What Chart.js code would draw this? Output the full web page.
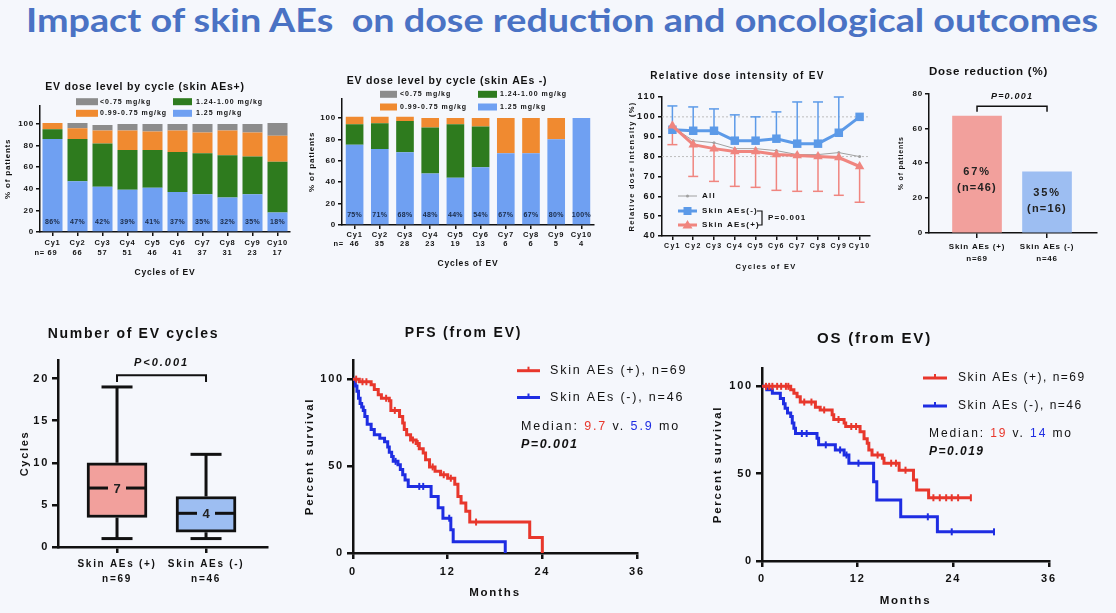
<!DOCTYPE html>
<html>
<head>
<meta charset="utf-8">
<script src="https://cdn.jsdelivr.net/npm/chart.js@4.4.1/dist/chart.umd.min.js"></script>
<style>
  body { margin: 0; background: #F5F7FC; width: 1116px; height: 613px; overflow: hidden; position: relative; }
  #title { position: absolute; left: 26px; top: -1px; white-space: nowrap; font: bold 33px Lato, sans-serif; color: #4A72C4; transform-origin: 0 0; }
  canvas { position: absolute; }
</style>
</head>
<body>
<div id="title">Impact of skin AEs&nbsp; on dose reduction and oncological outcomes</div>
<canvas id="c1" width="300" height="210" style="left:0;top:72px"></canvas>
<canvas id="c2" width="305" height="200" style="left:300px;top:70px"></canvas>
<canvas id="c3" width="275" height="210" style="left:605px;top:62px"></canvas>
<canvas id="c4" width="236" height="210" style="left:880px;top:60px"></canvas>
<canvas id="c5" width="275" height="275" style="left:0;top:318px"></canvas>
<canvas id="c6" width="410" height="290" style="left:290px;top:318px"></canvas>
<canvas id="c7" width="416" height="290" style="left:700px;top:320px"></canvas>
<script>
// --- dose level by cycle ---
const cycles = ['Cy1', 'Cy2', 'Cy3', 'Cy4', 'Cy5', 'Cy6', 'Cy7', 'Cy8', 'Cy9', 'Cy10'];
const doseLevels = ['1.25 mg/kg', '1.24-1.00 mg/kg', '0.99-0.75 mg/kg', '<0.75 mg/kg'];

const plusN = [69, 66, 57, 51, 46, 41, 37, 31, 23, 17];
const plus125 = [86, 47, 42, 39, 41, 37, 35, 32, 35, 18];
const plus124 = [9, 39, 40, 37, 35, 37, 38, 39, 35, 47];
const plus099 = [6, 10, 12, 18, 17, 20, 19, 23, 22, 24];
const plus075 = [0, 5, 5, 6, 7, 6, 8, 6, 8, 12];

const minusN = [46, 35, 28, 23, 19, 13, 6, 6, 5, 4];
const minus125 = [75, 71, 68, 48, 44, 54, 67, 67, 80, 100];
const minus124 = [19, 24, 29, 43, 50, 38, 0, 0, 0, 0];
const minus099 = [7, 6, 4, 9, 6, 8, 33, 33, 20, 0];
const minus075 = [0, 0, 0, 0, 0, 0, 0, 0, 0, 0];

// --- relative dose intensity ---
const rdiAll = [95, 88, 87, 84, 84, 83, 81, 81, 82, 80];
const rdiMinus = [93.5, 93, 93, 88, 88, 89, 86.5, 86.5, 92, 100];
const rdiMinusUpper = [105.5, 105, 104, 101, 100, 102.5, 107.5, 107.5, 110, 100];
const rdiPlus = [95.5, 86, 84, 82.5, 82.5, 81, 80.5, 80, 79.5, 75];
const rdiPlusLower = [86, 70, 67.5, 65, 64.5, 63, 62.5, 62.5, 60.5, 57];
const rdiRefLines = [100, 80];
const rdiP = 'P=0.001';

// --- groups ---
const groups = ['Skin AEs (+)', 'Skin AEs (-)'];
const groupN = [69, 46];
const doseRedPct = [67, 35];
const doseRedN = [46, 16];
const doseRedP = 'P=0.001';

// --- number of cycles (box plot) ---
const cycMin = [1, 1];
const cycQ1 = [3.5, 1.75];
const cycMed = [7, 4];
const cycQ3 = [10, 6];
const cycMax = [19, 11];
const cycP = 'P<0.001';

// --- PFS ---
const pfsPlusT = [0, 0.8, 2.3, 2.7, 3.2, 3.6, 4.6, 4.8, 5.9, 6.3, 6.5, 6.8, 7.3, 8.0, 8.4, 8.9, 9.2, 9.7, 10.4, 11.1, 12.0, 12.9, 13.3, 13.7, 14.3, 14.8, 22.4, 24.0];
const pfsPlusS = [100, 98.5, 96.7, 94, 91, 89, 87.5, 82, 78.5, 74.7, 71, 68, 65, 63, 60, 57.5, 53.6, 49.5, 47, 45, 43, 39.5, 32.5, 28.7, 24, 17.8, 8.9, 0];
const pfsPlusCensT = [0.4, 1.2, 1.7, 4.2, 5.3, 7.6, 8.2, 10.1, 11.5, 12.4, 15.6];
const pfsPlusCensS = [100, 98.5, 98.5, 89, 82, 65, 63, 49.5, 45, 43, 17.8];
const pfsMinusT = [0, 0.3, 0.5, 0.7, 0.9, 1.1, 1.3, 1.5, 1.8, 2.3, 2.7, 3.4, 4.0, 4.4, 4.6, 4.9, 5.1, 5.7, 6.0, 6.3, 6.6, 7.0, 9.9, 10.8, 11.4, 12.4, 12.7, 19.3];
const pfsMinusS = [100, 96, 93, 89, 86, 84, 82, 78.5, 74, 71, 68, 66, 64, 61, 58, 55.5, 52.7, 50.8, 48, 45, 42, 38.3, 32.5, 26, 20, 13.4, 6.5, 0];
const pfsMinusCensT = [5.4, 8.4, 8.9, 12.2];
const pfsMinusCensS = [52.7, 38.3, 38.3, 20];
const pfsMedian = ['9.7', '5.9'];
const pfsP = 'P=0.001';

// --- OS ---
const osPlusT = [0, 3.6, 4.0, 4.4, 4.8, 6.7, 7.3, 8.8, 9.0, 10.3, 10.5, 12.3, 12.8, 13.2, 13.4, 13.8, 15.1, 15.3, 17.2, 19.0, 19.4, 20.9, 26.2];
const osPlusS = [100, 98, 96, 94, 91, 88, 86.5, 83.7, 81, 79, 77, 74, 70, 67.4, 63.6, 60.7, 58.8, 56, 52, 46.4, 40.6, 36.2, 36.2];
const osPlusCensT = [0.5, 0.9, 1.3, 1.9, 2.4, 3.0, 3.3, 5.3, 6.2, 7.8, 9.6, 11.2, 11.8, 14.5, 16.2, 16.8, 18.0, 21.5, 22.3, 23.1, 23.8, 24.6, 26.2];
const osPlusCensS = [100, 100, 100, 100, 100, 100, 100, 91, 91, 86.5, 81, 77, 77, 60.7, 56, 56, 52, 36.2, 36.2, 36.2, 36.2, 36.2, 36.2];
const osMinusT = [0, 0.6, 1.3, 2.3, 2.7, 2.9, 3.2, 3.6, 3.8, 4.0, 4.2, 6.9, 7.1, 9.2, 10.3, 10.9, 14.0, 14.4, 17.4, 22.0, 29.1];
const osMinusS = [100, 98, 96, 93, 90, 87.5, 84.7, 82.8, 79, 76, 73, 70.3, 66.5, 63.6, 60.7, 56, 45.4, 34.9, 25.3, 16.7, 16.7];
const osMinusCensT = [5.0, 5.6, 8.0, 9.8, 10.6, 12.1, 20.8, 23.8, 29.1];
const osMinusCensS = [73, 73, 66.5, 63.6, 60.7, 56, 25.3, 16.7, 16.7];
const osMedian = ['19', '14'];
const osP = 'P=0.019';

const FONT = '"Liberation Sans", Arial, sans-serif';
const KM_RED = '#E8372C', KM_BLUE = '#1E2DE2';
const PINK = '#F2A09C', SOFTBLUE = '#9DBEF2';

Chart.defaults.font.family = FONT;
Chart.defaults.font.weight = 'bold';
Chart.defaults.color = '#111';
Chart.defaults.animation = false;
Chart.defaults.events = [];
Chart.defaults.plugins.legend.display = false;
Chart.defaults.plugins.tooltip.enabled = false;

// GraphPad style text is spaced out a bit
Chart.register({
  id: 'spacing',
  defaults: { px: 0 },
  beforeUpdate(chart, args, o) { chart.ctx.letterSpacing = o.px + 'px'; },
  beforeDraw(chart, args, o) { chart.ctx.letterSpacing = o.px + 'px'; }
});

function axisBase(w, tl) {
  return {
    border: { color: '#111', width: w },
    grid: { drawOnChartArea: false, color: '#111', lineWidth: w, tickLength: tl, offset: false }
  };
}

function text(ctx, s, x, y, font, ls, align, color) {
  ctx.save();
  ctx.font = font;
  ctx.letterSpacing = ls + 'px';
  ctx.textAlign = align || 'left';
  ctx.textBaseline = 'middle';
  ctx.fillStyle = color || '#111';
  ctx.fillText(s, x, y);
  ctx.restore();
}

function line(ctx, x1, y1, x2, y2) {
  ctx.beginPath();
  ctx.moveTo(x1, y1);
  ctx.lineTo(x2, y2);
  ctx.stroke();
}

// percent labels, "n=" and the 2x2 legend of the dose level charts
const doseExtras = {
  id: 'doseExtras',
  afterDatasetsDraw(chart, args, o) {
    const { ctx, scales: { y } } = chart;
    const ds = chart.data.datasets;
    chart.getDatasetMeta(0).data.forEach((bar, i) => {
      text(ctx, ds[0].data[i] + '%', bar.x, y.getPixelForValue(9.5), 'bold 7px ' + FONT, 0.3, 'center', '#1B2B48');
    });
    text(ctx, 'n=', o.nx, o.ny, 'bold 7.5px ' + FONT, 0.8, 'right');
    const cells = [[3, 0, 0], [1, 1, 0], [2, 0, 1], [0, 1, 1]];
    cells.forEach(([d, c, r]) => {
      const col = o.cols[c];
      ctx.fillStyle = ds[d].backgroundColor;
      ctx.fillRect(col.sx, o.rows[r] - 3.5, col.sw, 7);
      text(ctx, ds[d].label, col.tx, o.rows[r], 'bold 7px ' + FONT, 1, 'left');
    });
  }
};

function doseChart(id, title, v125, v124, v099, v075, nArr, cfg) {
  return new Chart(document.getElementById(id), {
    type: 'bar',
    data: {
      labels: cycles.map((c, i) => [c, String(nArr[i])]),
      datasets: [
        { label: doseLevels[0], data: v125, backgroundColor: '#6FA0F2' },
        { label: doseLevels[1], data: v124, backgroundColor: '#2E7B1E' },
        { label: doseLevels[2], data: v099, backgroundColor: '#F08A30' },
        { label: doseLevels[3], data: v075, backgroundColor: '#8C8C8C' }
      ]
    },
    options: {
      responsive: false,
      layout: { padding: { right: cfg.right, left: 0, top: 0, bottom: 0 } },
      datasets: { bar: { barPercentage: cfg.bar, categoryPercentage: 1 } },
      scales: {
        x: {
          ...axisBase(1.5, 4), stacked: true,
          ticks: { font: { size: 7.5, lineHeight: cfg.tlh }, padding: cfg.tpad, maxRotation: 0, autoSkip: false },
          title: { display: true, text: 'Cycles of EV', font: { size: 8.5 }, padding: { top: 0, bottom: cfg.xtp } },
          afterFit: s => { s.height = cfg.xh; }
        },
        y: {
          ...axisBase(1.5, 4), stacked: true, min: 0, max: cfg.ymax,
          ticks: { stepSize: 20, font: { size: 8 }, padding: 2 },
          afterBuildTicks: s => { s.ticks = s.ticks.filter(t => t.value <= 100); },
          title: { display: true, text: '% of patients', font: { size: 8 }, padding: { top: cfg.ytp, bottom: 0 } },
          afterFit: s => { s.width = cfg.yw; }
        }
      },
      plugins: {
        title: { display: true, text: title, font: { size: 10.5 }, padding: { top: cfg.tt, bottom: cfg.tb } },
        spacing: { px: 0.8 },
        doseExtras: cfg.legend
      }
    },
    plugins: [doseExtras]
  });
}

doseChart('c1', 'EV dose level by cycle (skin AEs+)', plus125, plus124, plus099, plus075, plusN, {
  right: 10, bar: 0.8, tlh: 1.33, tpad: 2, xtp: 4.6, xh: 50, ymax: 117, ytp: 3, yw: 40, tt: 9, tb: 12,
  legend: { nx: 45, ny: 181, rows: [29.7, 41.3], cols: [{ sx: 76, sw: 22, tx: 100 }, { sx: 173, sw: 19, tx: 196 }] }
});

doseChart('c2', 'EV dose level by cycle (skin AEs -)', minus125, minus124, minus099, minus075, minusN, {
  right: 11, bar: 0.7, tlh: 1.2, tpad: 1.5, xtp: 1.5, xh: 45, ymax: 118, ytp: 7, yw: 42, tt: 5, tb: 11,
  legend: { nx: 44, ny: 174, rows: [24.3, 37], cols: [{ sx: 80, sw: 17, tx: 100 }, { sx: 178, sw: 19, tx: 200 }] }
});

// error bars, reference lines and the inset legend of the RDI chart
const rdiExtras = {
  id: 'rdiExtras',
  beforeDatasetsDraw(chart) {
    const { ctx, scales: { x, y }, chartArea } = chart;
    ctx.save();
    ctx.strokeStyle = '#BDBDBD';
    ctx.lineWidth = 1;
    ctx.setLineDash([2, 2]);
    rdiRefLines.forEach(v => line(ctx, chartArea.left, y.getPixelForValue(v), chartArea.right, y.getPixelForValue(v)));
    ctx.setLineDash([]);
    ctx.lineWidth = 1.5;
    cycles.forEach((c, i) => {
      const px = x.getPixelForValue(i);
      ctx.strokeStyle = '#5C9AE8';
      if (rdiMinusUpper[i] > rdiMinus[i]) {
        const top = y.getPixelForValue(rdiMinusUpper[i]);
        line(ctx, px, y.getPixelForValue(rdiMinus[i]), px, top);
        line(ctx, px - 5, top, px + 5, top);
      }
      ctx.strokeStyle = '#F0857F';
      const bot = y.getPixelForValue(rdiPlusLower[i]);
      line(ctx, px, y.getPixelForValue(rdiPlus[i]), px, bot);
      line(ctx, px - 5, bot, px + 5, bot);
    });
    ctx.restore();
  },
  afterDraw(chart, args, o) {
    const ctx = chart.ctx;
    const ds = chart.data.datasets;
    const rows = [[2, o.rows[0]], [1, o.rows[1]], [0, o.rows[2]]];
    ctx.save();
    rows.forEach(([d, yy]) => {
      const s = ds[d];
      ctx.strokeStyle = s.borderColor;
      ctx.fillStyle = s.borderColor;
      ctx.lineWidth = s.borderWidth;
      line(ctx, o.lx1, yy, o.lx2, yy);
      const mx = (o.lx1 + o.lx2) / 2;
      if (s.pointStyle === 'rect') ctx.fillRect(mx - 4, yy - 4, 8, 8);
      else if (s.pointStyle === 'triangle') {
        ctx.beginPath(); ctx.moveTo(mx, yy - 5); ctx.lineTo(mx + 5, yy + 3.5); ctx.lineTo(mx - 5, yy + 3.5); ctx.closePath(); ctx.fill();
      } else { ctx.beginPath(); ctx.arc(mx, yy, 1.5, 0, Math.PI * 2); ctx.fill(); }
      text(ctx, s.label, o.tx, yy, 'bold 8px ' + FONT, 1.2, 'left');
    });
    ctx.strokeStyle = '#111';
    ctx.lineWidth = 1.2;
    ctx.beginPath();
    ctx.moveTo(o.bx - 5, o.rows[1]); ctx.lineTo(o.bx, o.rows[1]); ctx.lineTo(o.bx, o.rows[2]); ctx.lineTo(o.bx - 5, o.rows[2]);
    ctx.stroke();
    text(ctx, rdiP, o.bx + 6, (o.rows[1] + o.rows[2]) / 2, 'bold 8px ' + FONT, 1.2, 'left');
    ctx.restore();
  }
};

new Chart(document.getElementById('c3'), {
  type: 'line',
  data: {
    labels: cycles,
    datasets: [
      { label: 'Skin AEs(+)', data: rdiPlus, borderColor: '#F0857F', backgroundColor: '#F0857F', borderWidth: 3, pointStyle: 'triangle', pointRadius: 5.5, pointBorderWidth: 0 },
      { label: 'Skin AEs(-)', data: rdiMinus, borderColor: '#5C9AE8', backgroundColor: '#5C9AE8', borderWidth: 3, pointStyle: 'rect', pointRadius: 6, pointBorderWidth: 0 },
      { label: 'All', data: rdiAll, borderColor: '#A0A0A0', backgroundColor: '#A0A0A0', borderWidth: 1, pointStyle: 'circle', pointRadius: 1.5, pointBorderWidth: 0 }
    ]
  },
  options: {
    responsive: false,
    layout: { padding: { right: 10, left: 0, top: 0, bottom: 0 } },
    scales: {
      x: {
        ...axisBase(1.5, 4), offset: true,
        ticks: { font: { size: 7 }, padding: 2, autoSkip: false, maxRotation: 0 },
        title: { display: true, text: 'Cycles of EV', font: { size: 7.5 }, padding: { top: 0, bottom: 1 } },
        afterFit: s => { s.height = 36; }
      },
      y: {
        ...axisBase(1.5, 4), min: 40, max: 110,
        ticks: { stepSize: 10, font: { size: 9 }, padding: 2 },
        title: { display: true, text: 'Relative dose intensity (%)', font: { size: 7.5 }, padding: { top: 22, bottom: 0 } },
        afterFit: s => { s.width = 57; }
      }
    },
    plugins: {
      title: { display: true, text: 'Relative dose intensity of EV', font: { size: 10 }, padding: { top: 8, bottom: 15 } },
      spacing: { px: 1.3 },
      rdiExtras: { rows: [134, 149, 163], lx1: 73, lx2: 92, tx: 97, bx: 157 }
    }
  },
  plugins: [rdiExtras]
});

// labels inside the dose reduction bars and the significance bracket
const redExtras = {
  id: 'redExtras',
  afterDatasetsDraw(chart, args, o) {
    const { ctx, scales: { x, y } } = chart;
    doseRedPct.forEach((v, i) => {
      const px = x.getPixelForValue(i + 1);
      const y1 = y.getPixelForValue(v - o.drop[i]);
      text(ctx, v + '%', px, y1, 'bold 11px ' + FONT, 1.8, 'center', '#222');
      text(ctx, '(n=' + doseRedN[i] + ')', px, y1 + 16, 'bold 11px ' + FONT, 1.2, 'center', '#222');
    });
    const xa = x.getPixelForValue(1), xb = x.getPixelForValue(2);
    const yb = y.getPixelForValue(72.6), yt = y.getPixelForValue(69.5);
    ctx.save();
    ctx.strokeStyle = '#111';
    ctx.lineWidth = 1.5;
    ctx.beginPath();
    ctx.moveTo(xa, yt); ctx.lineTo(xa, yb); ctx.lineTo(xb, yb); ctx.lineTo(xb, yt);
    ctx.stroke();
    ctx.restore();
    text(ctx, doseRedP, (xa + xb) / 2, y.getPixelForValue(78.3), 'italic bold 9px ' + FONT, 1.2, 'center');
  }
};

new Chart(document.getElementById('c4'), {
  type: 'bar',
  data: {
    datasets: [{
      data: doseRedPct.map((v, i) => ({ x: i + 1, y: v })),
      backgroundColor: [PINK, SOFTBLUE],
      barThickness: 49
    }]
  },
  options: {
    responsive: false,
    layout: { padding: { right: 19, left: 0, top: 0, bottom: 0 } },
    scales: {
      x: {
        ...axisBase(1.5, 5), type: 'linear', offset: false, min: 0.314, max: 2.714,
        afterBuildTicks: s => { s.ticks = [{ value: 1 }, { value: 2 }]; },
        ticks: { font: { size: 8, lineHeight: 1.5 }, padding: 3, callback: v => [groups[v - 1], 'n=' + groupN[v - 1]] },
        afterFit: s => { s.height = 37; }
      },
      y: {
        ...axisBase(1.5, 4), min: 0, max: 80,
        ticks: { stepSize: 20, font: { size: 8 }, padding: 2 },
        title: { display: true, text: '% of patients', font: { size: 7 }, padding: { top: 17, bottom: 0 } },
        afterFit: s => { s.width = 49; }
      }
    },
    plugins: {
      title: { display: true, text: 'Dose reduction (%)', font: { size: 11.5 }, padding: { top: 5, bottom: 14.6 } },
      spacing: { px: 0.8 },
      redExtras: { drop: [32, 12] }
    }
  },
  plugins: [redExtras]
});

// whiskers, medians and bracket of the box plot
const boxExtras = {
  id: 'boxExtras',
  beforeDatasetsDraw(chart) {
    const { ctx, scales: { x, y } } = chart;
    ctx.save();
    ctx.strokeStyle = '#111';
    ctx.lineWidth = 3;
    cycMed.forEach((m, i) => {
      const px = x.getPixelForValue(i + 1);
      const top = y.getPixelForValue(cycMax[i]), bot = y.getPixelForValue(cycMin[i]);
      line(ctx, px, y.getPixelForValue(cycQ3[i]), px, top);
      line(ctx, px - 15.5, top, px + 15.5, top);
      line(ctx, px, y.getPixelForValue(cycQ1[i]), px, bot);
      line(ctx, px - 15.5, bot, px + 15.5, bot);
    });
    ctx.restore();
  },
  afterDatasetsDraw(chart) {
    const { ctx, scales: { x, y } } = chart;
    ctx.save();
    ctx.strokeStyle = '#111';
    ctx.lineWidth = 3;
    cycMed.forEach((m, i) => {
      const px = x.getPixelForValue(i + 1), py = y.getPixelForValue(m);
      line(ctx, px - 29, py, px - 9, py);
      line(ctx, px + 9, py, px + 29, py);
      text(ctx, String(m), px, py + 1, 'bold 13px ' + FONT, 0, 'center', '#222');
    });
    const xa = x.getPixelForValue(1), xb = x.getPixelForValue(2);
    const yb = y.getPixelForValue(20.4), yt = y.getPixelForValue(19.6);
    ctx.lineWidth = 2;
    ctx.beginPath();
    ctx.moveTo(xa, yt); ctx.lineTo(xa, yb); ctx.lineTo(xb, yb); ctx.lineTo(xb, yt);
    ctx.stroke();
    ctx.restore();
    text(ctx, cycP, (xa + xb) / 2, y.getPixelForValue(21.8), 'italic bold 11px ' + FONT, 2, 'center');
  }
};

new Chart(document.getElementById('c5'), {
  type: 'bar',
  data: {
    datasets: [{
      data: cycQ1.map((q, i) => ({ x: i + 1, y: [q, cycQ3[i]] })),
      backgroundColor: [PINK, SOFTBLUE],
      borderColor: '#111',
      borderWidth: 3,
      borderSkipped: false,
      barThickness: 60
    }]
  },
  options: {
    responsive: false,
    layout: { padding: { right: 8, left: 0, top: 0, bottom: 0 } },
    scales: {
      x: {
        ...axisBase(2.5, 6), type: 'linear', offset: false, min: 0.337, max: 2.685,
        afterBuildTicks: s => { s.ticks = [{ value: 1 }, { value: 2 }]; },
        ticks: { font: { size: 10, lineHeight: 1.5 }, padding: 3.5, callback: v => [groups[v - 1], 'n=' + groupN[v - 1]] },
        afterFit: s => { s.height = 46; }
      },
      y: {
        ...axisBase(2.5, 6), min: 0, max: 22.2,
        ticks: { stepSize: 5, font: { size: 11 }, padding: 3 },
        afterBuildTicks: s => { s.ticks = s.ticks.filter(t => t.value <= 20); },
        title: { display: true, text: 'Cycles', font: { size: 11 }, padding: { top: 18.4, bottom: 0 } },
        afterFit: s => { s.width = 58; }
      }
    },
    plugins: {
      title: { display: true, text: 'Number of EV cycles', font: { size: 14 }, padding: { top: 7.6, bottom: 17.6 } },
      spacing: { px: 1.7 }
    }
  },
  plugins: [boxExtras]
});

// legend, medians and p value of the survival charts
const kmLegend = {
  id: 'kmLegend',
  afterDraw(chart, args, o) {
    const ctx = chart.ctx;
    const rows = [[KM_RED, 0, o.y1], [KM_BLUE, 1, o.y2]];
    ctx.save();
    rows.forEach(([c, i, yy]) => {
      ctx.strokeStyle = c;
      ctx.lineWidth = 3;
      line(ctx, o.lx1, yy, o.lx2, yy);
      ctx.lineWidth = 2;
      const mx = (o.lx1 + o.lx2) / 2;
      line(ctx, mx, yy - 4, mx, yy);
      text(ctx, groups[i] + ', n=' + groupN[i], o.tx, yy, o.size + 'px ' + FONT, o.ls, 'left');
    });
    ctx.restore();
    const parts = [['Median: ', '#111'], [o.median[0], KM_RED], [' v. ', '#111'], [o.median[1], KM_BLUE], [' mo', '#111']];
    let x = o.mx;
    ctx.save();
    ctx.font = o.size + 'px ' + FONT;
    ctx.letterSpacing = o.mls + 'px';
    parts.forEach(([s, c]) => {
      text(ctx, s, x, o.my, o.size + 'px ' + FONT, o.mls, 'left', c);
      x += ctx.measureText(s).width;
    });
    ctx.restore();
    text(ctx, o.p, o.mx, o.py, 'italic bold ' + o.size + 'px ' + FONT, 1.5, 'left');
  }
};

function kmChart(id, title, pT, pS, pCT, pCS, mT, mS, mCT, mCS, cfg) {
  const pts = (t, s) => t.map((v, i) => ({ x: v, y: s[i] }));
  const curve = (d, c) => ({ data: d, borderColor: c, borderWidth: 3, stepped: true, pointRadius: 0, fill: false });
  const cens = (d, c) => ({ data: d, borderColor: c, showLine: false, pointStyle: 'line', pointRotation: 90, pointRadius: 3.5, pointBorderWidth: 2, pointBorderColor: c });
  return new Chart(document.getElementById(id), {
    type: 'line',
    data: {
      datasets: [
        curve(pts(pT, pS), KM_RED), cens(pts(pCT, pCS), KM_RED),
        curve(pts(mT, mS), KM_BLUE), cens(pts(mCT, mCS), KM_BLUE)
      ]
    },
    options: {
      responsive: false,
      layout: { padding: { right: cfg.right, left: 0, top: 0, bottom: 0 } },
      scales: {
        x: {
          ...axisBase(2.5, 6), type: 'linear', min: 0, max: 36,
          ticks: { stepSize: 12, font: { size: 11 }, padding: cfg.tpad },
          title: { display: true, text: 'Months', font: { size: 11.5 }, padding: { top: 0, bottom: cfg.xtp } },
          afterFit: s => { s.height = cfg.xh; }
        },
        y: {
          ...axisBase(2.5, 6), min: 0, max: cfg.ymax,
          ticks: { stepSize: 50, font: { size: 11 }, padding: 3 },
          afterBuildTicks: s => { s.ticks = s.ticks.filter(t => t.value <= 100); },
          title: { display: true, text: 'Percent survival', font: { size: 11.5 }, padding: { top: cfg.ytp, bottom: 0 } },
          afterFit: s => { s.width = cfg.yw; }
        }
      },
      plugins: {
        title: { display: true, text: title, font: { size: cfg.ts }, padding: { top: cfg.tt, bottom: cfg.tb } },
        spacing: { px: 1.8 },
        kmLegend: cfg.legend
      }
    },
    plugins: [kmLegend]
  });
}

kmChart('c6', 'PFS (from EV)', pfsPlusT, pfsPlusS, pfsPlusCensT, pfsPlusCensS, pfsMinusT, pfsMinusS, pfsMinusCensT, pfsMinusCensS, {
  right: 63, tpad: 6.7, xtp: 8.4, xh: 55, ymax: 111, ytp: 13.4, yw: 63, ts: 14, tt: 6.6, tb: 18.6,
  legend: { lx1: 227, lx2: 250, tx: 260, y1: 52.7, y2: 79.5, size: 12.5, ls: 1.8, mx: 231, my: 109, py: 127, median: pfsMedian, mls: 1.9, p: pfsP }
});

kmChart('c7', 'OS (from EV)', osPlusT, osPlusS, osPlusCensT, osPlusCensS, osMinusT, osMinusS, osMinusCensT, osMinusCensS, {
  right: 67, tpad: 5.7, xtp: 2.4, xh: 49, ymax: 110.5, ytp: 11.4, yw: 62, ts: 15, tt: 10, tb: 20,
  legend: { lx1: 223, lx2: 247, tx: 258, y1: 58, y2: 86, size: 12, ls: 1.5, mx: 229, my: 114, py: 132, median: osMedian, mls: 1.9, p: osP }
});

// stretch the slide title to its width in the original
const t = document.getElementById('title');
t.style.transform = 'scaleX(' + (1072 / t.getBoundingClientRect().width) + ')';
</script>
</body>
</html>
